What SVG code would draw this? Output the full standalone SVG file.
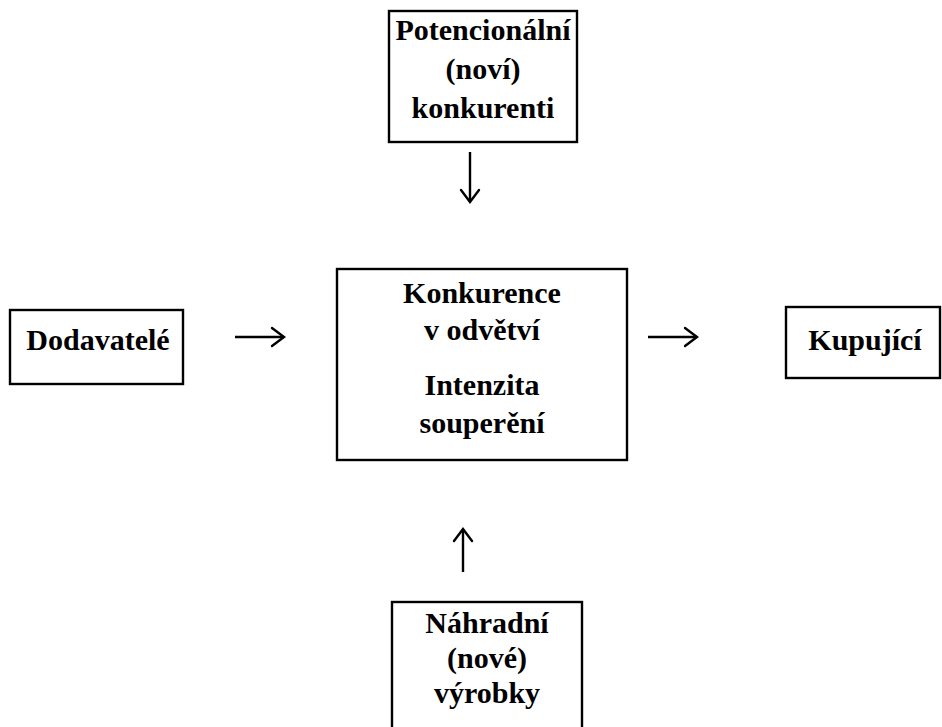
<svg xmlns="http://www.w3.org/2000/svg" width="942" height="727" viewBox="0 0 942 727">
<defs>
<style>
.box{fill:#fff;stroke:#000;stroke-width:2.4}
.t{font-family:"Liberation Serif","Times New Roman",serif;font-weight:bold;font-size:30px;fill:#000;text-anchor:middle}
.c{stroke:#000;stroke-width:2.4;fill:none}
.h{stroke:#000;stroke-width:2.4;fill:none;stroke-linecap:round;stroke-linejoin:miter}
</style>
</defs>
<rect width="942" height="727" fill="#fff"/>
<g id="potencialni">
<rect class="box" x="389" y="11" width="188" height="131"/>
<text class="t" x="483" y="40">Potencionální</text>
<text class="t" x="483" y="79">(noví)</text>
<text class="t" x="483" y="118">konkurenti</text>
</g>
<g id="dodavatele">
<rect class="box" x="10" y="310" width="173" height="74"/>
<text class="t" x="98" y="350">Dodavatelé</text>
</g>
<g id="konkurence">
<rect class="box" x="337" y="269" width="290" height="191"/>
<text class="t" x="482" y="303">Konkurence</text>
<text class="t" x="482" y="340">v odvětví</text>
<text class="t" x="482" y="395">Intenzita</text>
<text class="t" x="482" y="433">souperění</text>
</g>
<g id="kupujici">
<rect class="box" x="786" y="307" width="154" height="71"/>
<text class="t" x="865" y="350">Kupující</text>
</g>
<g id="nahradni">
<rect class="box" x="392" y="602" width="190" height="130"/>
<text class="t" x="487" y="633">Náhradní</text>
<text class="t" x="487" y="668">(nové)</text>
<text class="t" x="487" y="703">výrobky</text>
</g>
<g id="connectors">
<line class="c" x1="470" y1="152" x2="470" y2="202"/>
<path class="h" d="M461,190 L470,202 L479,190"/>
<line class="c" x1="235" y1="337" x2="284" y2="337"/>
<path class="h" d="M272,328 L284,337 L272,346"/>
<line class="c" x1="648" y1="337" x2="697" y2="337"/>
<path class="h" d="M685,328 L697,337 L685,346"/>
<line class="c" x1="463" y1="529" x2="463" y2="572"/>
<path class="h" d="M454,541 L463,529 L472,541"/>
</g>
</svg>
